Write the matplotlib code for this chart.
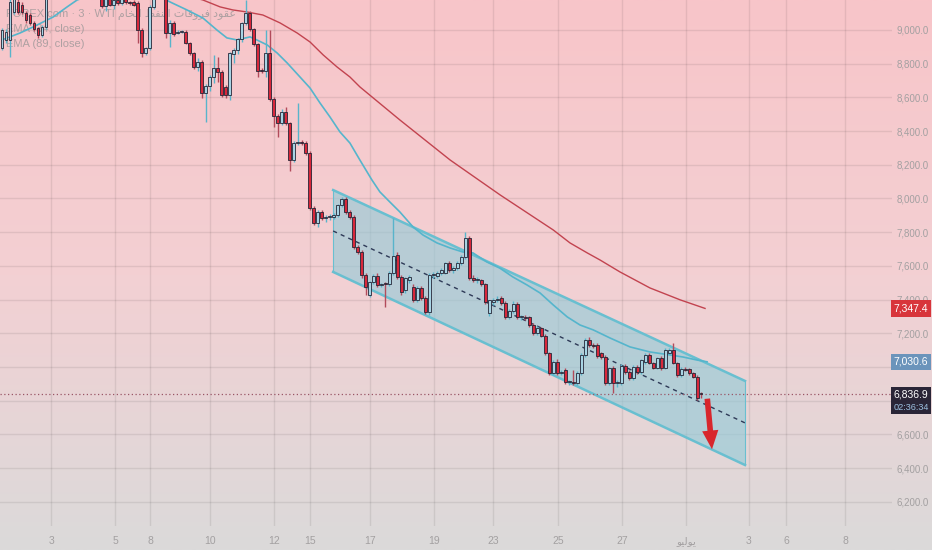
import matplotlib
matplotlib.use("Agg")
import matplotlib.pyplot as plt
import matplotlib.transforms as mtransforms
from matplotlib.colors import LinearSegmentedColormap
import numpy as np

# WTI CFD, 3h candles (price x100)
opens = [
    8893, 8941, 8941, 9107, 9166, 9148, 9101, 9089, 9042, 9012,
    8970, 9018, 9210, 9260, 9240, 9300, 9280, 9260, 9320, 9300,
    9270, 9250, 9280, 9240, 9220, 9200, 9142, 9195, 9150, 9180,
    9160, 9185, 9166, 9166, 9160, 9000, 8863, 8893, 9137, 9230,
    9270, 9240, 8982, 9042, 8982, 8988, 8990, 8923, 8863, 8780,
    8810, 8626, 8668, 8721, 8774, 8751, 8662, 8614, 8858, 8881,
    8947, 9042, 9101, 9006, 8917, 8763, 8757, 8863, 8590, 8490,
    8448, 8513, 8448, 8228, 8329, 8335, 8329, 8270, 7944, 7855,
    7920, 7884, 7888, 7892, 7902, 7961, 7997, 7920, 7890, 7712,
    7682, 7546, 7427, 7504, 7540, 7487, 7493, 7490, 7558, 7665,
    7534, 7457, 7516, 7475, 7398, 7469, 7409, 7326, 7546, 7540,
    7558, 7558, 7617, 7576, 7587, 7617, 7653, 7766, 7528, 7516,
    7516, 7493, 7320, 7386, 7398, 7409, 7380, 7297, 7332, 7374,
    7297, 7297, 7297, 7249, 7202, 7231, 7184, 7083, 6964, 7030,
    6964, 6982, 6911, 6911, 6905, 6964, 7071, 7160, 7130, 7130,
    7083, 7059, 6905, 6994, 6905, 6905, 7006, 6970, 6935, 7000,
    6970, 7030, 7071, 7024, 6994, 7053, 6994, 7083, 7101, 7024,
    6953, 6988, 6988, 6964, 6941, 6845,
]
highs = [
    9012, 9005, 9185, 9230, 9190, 9165, 9110, 9100, 9055, 9020,
    9030, 9230, 9280, 9300, 9320, 9340, 9310, 9330, 9360, 9320,
    9300, 9290, 9300, 9260, 9250, 9225, 9215, 9220, 9200, 9190,
    9200, 9200, 9175, 9180, 9175, 9010, 8900, 9150, 9260, 9290,
    9300, 9260, 9060, 9055, 9000, 9000, 9000, 8930, 8870, 8834,
    8820, 8680, 8735, 8852, 8840, 8760, 8675, 8870, 8895, 8955,
    9050, 9178, 9110, 9012, 8925, 8775, 9000, 9000, 8600, 8500,
    8530, 8543, 8455, 8340, 8567, 8350, 8340, 8280, 7955, 7930,
    7930, 7900, 7905, 7915, 7970, 8010, 8010, 7930, 7900, 7725,
    7695, 7555, 7510, 7550, 7555, 7500, 7505, 7570, 7884, 7680,
    7545, 7535, 7545, 7490, 7480, 7480, 7420, 7555, 7565, 7570,
    7585, 7625, 7630, 7600, 7630, 7665, 7801, 7780, 7545, 7535,
    7525, 7500, 7400, 7410, 7420, 7420, 7390, 7345, 7390, 7385,
    7310, 7310, 7305, 7260, 7245, 7240, 7195, 7090, 7040, 7045,
    6980, 6995, 6925, 6980, 6975, 7080, 7170, 7175, 7145, 7140,
    7090, 7070, 7000, 7005, 6920, 7015, 7020, 6980, 7010, 7010,
    7050, 7080, 7085, 7030, 7060, 7065, 7110, 7110, 7142, 7030,
    7000, 7000, 6995, 6970, 6950, 6850,
]
lows = [
    8881, 8925, 8840, 9095, 9095, 9095, 9040, 9030, 8995, 8950,
    8960, 9005, 9195, 9220, 9230, 9260, 9240, 9250, 9290, 9250,
    9230, 9220, 9230, 9200, 9190, 9130, 9110, 9140, 9125, 9150,
    9150, 9155, 9150, 9140, 8923, 8840, 8850, 8880, 9125, 9210,
    9220, 8950, 8899, 8965, 8975, 8980, 8915, 8850, 8770, 8755,
    8596, 8454, 8640, 8685, 8690, 8600, 8596, 8585, 8804, 8860,
    8930, 9030, 8995, 8905, 8721, 8745, 8721, 8580, 8424, 8365,
    8435, 8435, 8163, 8215, 8320, 8320, 8260, 7930, 7840, 7830,
    7875, 7860, 7875, 7880, 7890, 7950, 7910, 7880, 7700, 7670,
    7530, 7427, 7415, 7490, 7475, 7475, 7356, 7480, 7545, 7520,
    7430, 7440, 7500, 7385, 7385, 7400, 7315, 7310, 7530, 7530,
    7545, 7550, 7565, 7560, 7575, 7605, 7640, 7515, 7505, 7500,
    7480, 7375, 7305, 7370, 7385, 7370, 7285, 7285, 7320, 7285,
    7280, 7280, 7240, 7190, 7190, 7175, 7070, 6950, 6950, 6955,
    6950, 6900, 6895, 6890, 6895, 6955, 7060, 7120, 7110, 7055,
    7050, 6895, 6890, 6846, 6880, 6895, 6960, 6925, 6925, 6960,
    6960, 7020, 7015, 6985, 6985, 6980, 6985, 7075, 7015, 6940,
    6940, 6975, 6955, 6935, 6805, 6815,
]
closes = [
    9000, 8988, 9166, 9200, 9107, 9107, 9060, 9042, 9006, 8970,
    9018, 9210, 9260, 9240, 9300, 9280, 9260, 9320, 9300, 9270,
    9250, 9280, 9240, 9220, 9200, 9142, 9195, 9150, 9180, 9160,
    9185, 9165, 9160, 9148, 9000, 8863, 8893, 9137, 9230, 9270,
    9240, 8982, 9042, 8976, 8988, 8994, 8923, 8863, 8780, 8810,
    8626, 8668, 8721, 8774, 8751, 8614, 8614, 8863, 8881, 8947,
    9042, 9101, 9006, 8917, 8757, 8757, 8863, 8590, 8490, 8448,
    8513, 8448, 8228, 8329, 8335, 8330, 8270, 7944, 7855, 7920,
    7884, 7888, 7892, 7902, 7961, 7997, 7920, 7890, 7712, 7682,
    7546, 7475, 7504, 7540, 7487, 7493, 7490, 7558, 7659, 7534,
    7445, 7528, 7534, 7398, 7469, 7409, 7326, 7546, 7552, 7558,
    7576, 7617, 7576, 7587, 7617, 7653, 7766, 7528, 7516, 7520,
    7493, 7386, 7398, 7398, 7400, 7380, 7297, 7332, 7374, 7297,
    7300, 7291, 7249, 7202, 7231, 7184, 7083, 6964, 7030, 6964,
    6970, 6911, 6915, 6905, 6964, 7071, 7160, 7130, 7125, 7065,
    7059, 6905, 6994, 6905, 6911, 7006, 6970, 6935, 7000, 6970,
    7041, 7071, 7024, 6994, 7053, 6994, 7101, 7101, 7024, 6953,
    6988, 6982, 6964, 6941, 6816, 6836.9,
]

# moving averages as traced on the chart (bar index, price)
ema34_idx = [0, 4.5, 7.8, 12.8, 16.3, 18.8, 24.5, 32, 38.3, 42.1, 46.3, 50.3,
             53.8, 56.3, 58.8, 62.1, 63.8, 66.4, 68.9, 71.4, 74.6, 77.1, 79.6,
             82.1, 84.6, 87.1, 89.6, 92.6, 94.6, 97.1, 99.6, 102.9, 105.4,
             108.9, 112.2, 115.4, 117.9, 121.4, 124.6, 127.9, 131.4, 134.7,
             138, 141.5, 144.7, 148, 152.2, 157.2, 162.2, 167.3, 170.5, 174, 176.5]
ema34_val = [8941, 8982, 9018, 9077, 9137, 9178, 9226, 9249, 9214, 9166, 9119, 9071,
             9000, 8953, 8941, 8959, 8941, 8911, 8863, 8804, 8721, 8656, 8567,
             8484, 8395, 8329, 8228, 8110, 8039, 7979, 7920, 7831, 7783,
             7736, 7706, 7682, 7677, 7623, 7587, 7534, 7487, 7439,
             7368, 7297, 7249, 7220, 7172, 7119, 7089, 7071, 7059, 7041, 7030.6]
ema89_idx = [30, 37.1, 44.6, 50.3, 54.6, 57.8, 61.3, 65.3, 69.6, 73.9, 77.1, 80.4,
             83.9, 87.1, 89.6, 99.6, 112.2, 124.7, 138, 142.2, 146.5, 149.7,
             154.7, 162.2, 169.8, 176]
ema89_val = [9300, 9267, 9214, 9178, 9137, 9119, 9107, 9089, 9042, 8982, 8929, 8852,
             8780, 8721, 8662, 8466, 8228, 8021, 7813, 7736, 7677, 7635,
             7564, 7469, 7398, 7347.4]

# drawn channel and arrow
channel_idx = [82.9, 186.0]
channel_top = [8050, 6917]
channel_mid = [7807, 6668]
channel_bot = [7564, 6418]
arrow_idx = [176.5, 177.8]
arrow_val = [6828, 6495]

date_pos = [12.3, 28.3, 37.1, 52.1, 68.1, 77.1, 92.1, 108.2, 122.9, 139.2,
            155.2, 171.3, 187.0, 196.3, 211.1]
date_labels = ["3", "5", "8", "10", "12", "15", "17", "19", "23", "25",
               "27", "يوليو", "3", "6", "8"]
price_ticks = [6200, 6400, 6600, 6800, 7000, 7200, 7400, 7600, 7800,
               8000, 8200, 8400, 8600, 8800, 9000]
hidden_ticks = [6800, 7000]   # covered by the price badges
countdown = "02:36:34"

# minimal arabic shaping (matplotlib has no bidi / joining)
AR_FORMS = {
    "ا": ("\ufe8d", "\ufe8e"), "د": ("\ufea9", "\ufeaa"),
    "ر": ("\ufead", "\ufeae"), "و": ("\ufeed", "\ufeee"),
    "ت": ("\ufe95", "\ufe96", "\ufe97", "\ufe98"),
    "خ": ("\ufea5", "\ufea6", "\ufea7", "\ufea8"),
    "ط": ("\ufec1", "\ufec2", "\ufec3", "\ufec4"),
    "ع": ("\ufec9", "\ufeca", "\ufecb", "\ufecc"),
    "ف": ("\ufed1", "\ufed2", "\ufed3", "\ufed4"),
    "ق": ("\ufed5", "\ufed6", "\ufed7", "\ufed8"),
    "ل": ("\ufedd", "\ufede", "\ufedf", "\ufee0"),
    "م": ("\ufee1", "\ufee2", "\ufee3", "\ufee4"),
    "ن": ("\ufee5", "\ufee6", "\ufee7", "\ufee8"),
    "ي": ("\ufef1", "\ufef2", "\ufef3", "\ufef4"),
}


def ar(text):
    if not any(ch in AR_FORMS for ch in text):
        return text
    out = []
    for k, ch in enumerate(text):
        forms = AR_FORMS.get(ch)
        if forms is None:
            out.append(ch)
            continue
        prev = text[k - 1] if k > 0 else ""
        nxt = text[k + 1] if k + 1 < len(text) else ""
        jp = prev in AR_FORMS and len(AR_FORMS[prev]) == 4
        jn = len(forms) == 4 and nxt in AR_FORMS
        out.append(forms[3] if jp and jn else forms[1] if jp else forms[2] if jn else forms[0])
    return "".join(reversed(out))


FONT = ["Liberation Sans", "DejaVu Sans"]
LABEL_GREY = "#a3a0a1"

fig = plt.figure(figsize=(9.32, 5.5), dpi=100)
bg = fig.add_axes([0, 0, 1, 1], zorder=-10)
grad = np.linspace(0, 1, 256).reshape(-1, 1)
cmap = LinearSegmentedColormap.from_list("bg", ["#f8c5c9", "#f3d0d3", "#dbdada"])
bg.imshow(grad, aspect="auto", cmap=cmap, extent=[0, 1, 0, 1], origin="upper")
bg.axis("off")

ax = fig.add_axes([0, 24 / 550, 892 / 932, 526 / 550])
ax.patch.set_alpha(0)
for s in ax.spines.values():
    s.set_visible(False)
ax.set_xlim(-0.5, 222.8)
ax.set_ylim(6056, 9178)

ax.set_yticks(price_ticks, ["" if v in hidden_ticks else f"{v:,.1f}" for v in price_ticks])
ax.set_xticks(date_pos, [ar(t) for t in date_labels])
ax.tick_params(axis="y", left=False, labelleft=False, right=False, labelright=True,
               length=0, pad=3, labelsize=7, labelcolor=LABEL_GREY)
ax.tick_params(axis="x", length=0, pad=7, labelsize=7.5, labelcolor=LABEL_GREY)
for lb in ax.get_xticklabels() + ax.get_yticklabels():
    lb.set_family(FONT)
ax.grid(True, color="k", alpha=0.08, linewidth=1)
ax.set_axisbelow(True)

# channel
ax.fill_between(channel_idx, channel_bot, channel_top, color="#92cbd8", alpha=0.62,
                linewidth=0, zorder=1)
ax.plot(channel_idx, channel_top, color="#69bfd0", lw=1.8, zorder=1.2)
ax.plot(channel_idx, channel_bot, color="#69bfd0", lw=1.8, zorder=1.2)
for k in (0, 1):
    ax.plot([channel_idx[k]] * 2, [channel_bot[k], channel_top[k]], color="#69bfd0",
            lw=0.8, zorder=1.2)
ax.plot(channel_idx, channel_mid, color="#2e3a57", lw=1.0, ls=(0, (3, 3)), zorder=1.3)

# moving averages
ax.plot(ema89_idx, ema89_val, color="#c2434f", lw=1.0, zorder=1.6)
ax.plot(ema34_idx, ema34_val, color="#55b5cc", lw=1.2, zorder=1.6)

# candles
o = np.array(opens, float)
h = np.array(highs, float)
l = np.array(lows, float)
c = np.array(closes, float)
x = np.arange(len(c))
up = c >= o
ax.vlines(x[up], l[up], h[up], color="#58b4cb", lw=1.0, zorder=2)
ax.vlines(x[~up], l[~up], h[~up], color="#b24b5b", lw=1.0, zorder=2)
lo = np.minimum(o, c)
hh = np.maximum(np.abs(c - o), 6)
ax.bar(x[up], hh[up], bottom=lo[up], width=0.72, color="#a8d4e4",
       edgecolor="#252637", linewidth=0.6, zorder=3)
ax.bar(x[~up], hh[~up], bottom=lo[~up], width=0.72, color="#d8283b",
       edgecolor="#252637", linewidth=0.6, zorder=3)

# current price line
ax.axhline(c[-1], color="#9a5566", lw=0.9, ls=(0, (1, 2)), zorder=1.5)

# projection arrow
ax.annotate("", xy=(arrow_idx[1], arrow_val[1]), xytext=(arrow_idx[0], arrow_val[0]),
            arrowprops=dict(arrowstyle="simple,head_width=1.3,head_length=1.5,tail_width=0.45",
                            mutation_scale=9, color="#d8262c", lw=0), zorder=5)

# price scale badges
ytr = ax.get_yaxis_transform()
badge = dict(ha="left", va="center", family=FONT)
ax.text(1.002, ema89_val[-1], f"{ema89_val[-1]:,.1f}", transform=ytr, color="white",
        fontsize=7.5, zorder=6,
        bbox=dict(boxstyle="square,pad=0.3", fc="#d8353b", ec="none"), **badge)
ax.text(1.002, ema34_val[-1], f"{ema34_val[-1]:,.1f}", transform=ytr, color="white",
        fontsize=7.5, zorder=6,
        bbox=dict(boxstyle="square,pad=0.3", fc="#6b94bb", ec="none"), **badge)
ax.text(1.002, c[-1], f"{c[-1]:,.1f}", transform=ytr, color="white",
        fontsize=7.5, zorder=6,
        bbox=dict(boxstyle="square,pad=0.25", fc="#2a2537", ec="none"), **badge)
ax.text(1.002, c[-1], countdown, color="#9cc0e0", fontsize=6.6, zorder=7,
        transform=mtransforms.offset_copy(ytr, fig=fig, y=-13, units="dots"),
        bbox=dict(boxstyle="square,pad=0.25", fc="#2a2537", ec="none"), **badge)

# legend lines
legend_lines = [
    "FOREX.com · 3 · WTI " + ar("عقود فروقات النفط الخام"),
    "EMA (34, close)",
    "EMA (89, close)",
]
for k, t in enumerate(legend_lines):
    ax.text(6 / 932, 1 - (15 + 14.5 * k) / 550, t, transform=fig.transFigure,
            ha="left", va="center", fontsize=8, color="#9c9798", alpha=0.8,
            family=FONT, zorder=1.4)

fig.savefig("out.png", dpi=100)
